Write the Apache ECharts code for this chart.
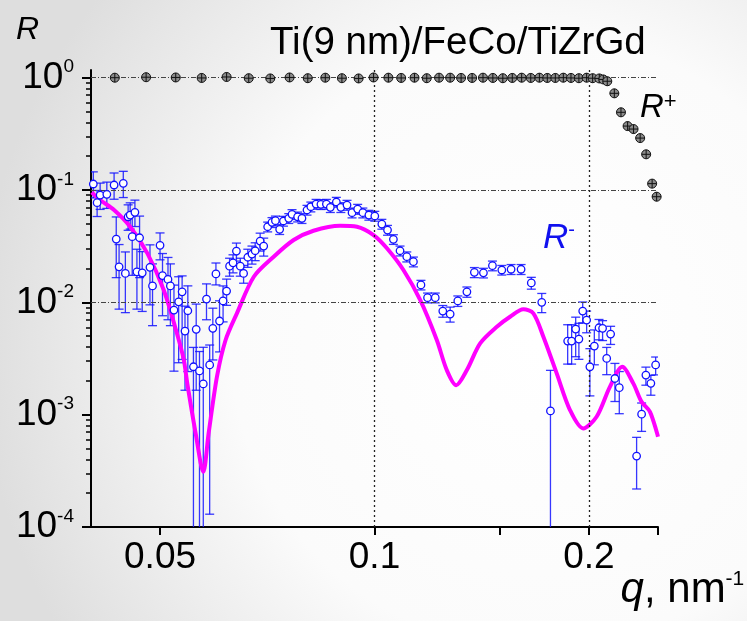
<!DOCTYPE html>
<html>
<head>
<meta charset="utf-8">
<script src="https://cdn.jsdelivr.net/npm/echarts@6/dist/echarts.min.js"></script>
<style>html,body{margin:0;padding:0;background:#fff}#c{width:747px;height:621px}</style>
</head>
<body>
<div id="c"></div>
<script>
// ---------------- data ----------------
const titleText = 'Ti(9 nm)/FeCo/TiZrGd';
const xLabelValues = [0.05, 0.1, 0.2];
const xLabelTexts = ['0.05', '0.1', '0.2'];
const xTickValues = [0.05, 0.1, 0.15, 0.2, 0.25];
const yTickValues = [1e-4, 1e-3, 1e-2, 1e-1, 1];
const yMinorTickValues = [2e-4, 3e-4, 4e-4, 5e-4, 6e-4, 7e-4, 8e-4, 9e-4,
  2e-3, 3e-3, 4e-3, 5e-3, 6e-3, 7e-3, 8e-3, 9e-3,
  0.02, 0.03, 0.04, 0.05, 0.06, 0.07, 0.08, 0.09,
  0.2, 0.3, 0.4, 0.5, 0.6, 0.7, 0.8, 0.9];
const xGridValues = [0.1, 0.2];
const yGridValues = [1, 0.1, 0.01, 0.001];

// R+ (spin-up reflectivity)
const qPlus = [0.0432, 0.0478, 0.0526, 0.0572, 0.0620, 0.0666, 0.0714, 0.0760, 0.0806, 0.0853, 0.0900, 0.0950, 0.0997,
  0.1046, 0.1090, 0.1138, 0.1184, 0.1232, 0.1277, 0.1323, 0.1371, 0.1420, 0.1466, 0.1514, 0.1561, 0.1609, 0.1657,
  0.1704, 0.1748, 0.1794, 0.1841, 0.1887, 0.1936, 0.1985, 0.2024, 0.2068, 0.2095, 0.2122,
  0.2171, 0.2218, 0.2266, 0.2310, 0.2360, 0.2406, 0.2453, 0.2489];
const rPlus = [1.0, 1.01, 1.005, 0.995, 1.015, 0.99, 0.985, 1.005, 0.99, 1.0, 0.99, 0.985, 1.005,
  1.0, 0.995, 1.0, 0.99, 1.0, 1.0, 0.995, 0.995, 1.0, 0.995, 0.99, 0.995, 1.0,
  0.995, 1.0, 0.995, 0.995, 1.0, 0.995, 0.99, 1.0, 0.99, 0.985, 0.965, 0.93,
  0.726, 0.492, 0.371, 0.349, 0.290, 0.208, 0.114, 0.0872];

// R- (spin-down reflectivity) with error bars
const qMinus = [0.0403, 0.0408, 0.0412, 0.0421, 0.0431, 0.0434, 0.0438, 0.0444, 0.0447, 0.0451, 0.0454, 0.0457, 0.0461,
  0.0464, 0.0468, 0.0472, 0.0484, 0.0488, 0.0500, 0.0504, 0.0513, 0.0517, 0.0523, 0.0531, 0.0537, 0.0542, 0.0547,
  0.0557, 0.0562, 0.0568, 0.0575, 0.0581, 0.0587, 0.0593, 0.0599, 0.0606, 0.0613, 0.0620, 0.0626, 0.0633, 0.0640,
  0.0648, 0.0655, 0.0664, 0.0673, 0.0680, 0.0691, 0.0699, 0.0708, 0.0718, 0.0726, 0.0736, 0.0745, 0.0758, 0.0766,
  0.0780, 0.0791, 0.0804, 0.0814, 0.0828, 0.0841, 0.0856, 0.0867, 0.0884, 0.0897, 0.0915, 0.0930, 0.0947, 0.0963,
  0.0982, 0.1001, 0.1024, 0.1043, 0.1063, 0.1086, 0.1110, 0.1134, 0.1162, 0.1187, 0.1217, 0.1247, 0.1277, 0.1309,
  0.1348, 0.1381, 0.1422, 0.1464, 0.1509, 0.1555, 0.1606, 0.1660, 0.1717, 0.1766, 0.1867, 0.1891, 0.1916, 0.1936,
  0.1960, 0.1985, 0.2006, 0.2035, 0.2066, 0.2090, 0.2118, 0.2145, 0.2175, 0.2206, 0.2333, 0.2371, 0.2404, 0.2443, 0.2481];
const rMinus = [0.1131, 0.0771, 0.0902, 0.0916, 0.1108, 0.0366, 0.0207, 0.1147, 0.0181, 0.0578, 0.0599, 0.0384, 0.0633,
  0.0187, 0.0376, 0.0183, 0.0205, 0.0140, 0.0322, 0.0173, 0.0160, 0.0140, 0.00854, 0.0101, 0.0124, 0.00555, 0.00842,
  0.00267, 0.00575, 0.00245, 0.00188, 0.0107, 0.00277, 0.00587, 0.0179, 0.00682, 0.0103, 0.0126, 0.0210, 0.0225, 0.0286,
  0.0210, 0.0181, 0.0252, 0.0269, 0.0288, 0.0351, 0.0317, 0.0471, 0.0516, 0.0533, 0.0447, 0.0530, 0.0560, 0.0608,
  0.0578, 0.0560, 0.0664, 0.0710, 0.0750, 0.0746, 0.0750, 0.0701, 0.0782, 0.0701, 0.0735, 0.0628, 0.0677, 0.0628,
  0.0599, 0.0587, 0.0498, 0.0440, 0.0364, 0.0288, 0.0255, 0.0230, 0.0143, 0.0110, 0.0110, 0.00837, 0.00787, 0.0103,
  0.0124, 0.0185, 0.0183, 0.0212, 0.0194, 0.0197, 0.0197, 0.0149, 0.0100, 0.00108, 0.00452, 0.00452, 0.00578, 0.00471,
  0.00837, 0.00696, 0.00267, 0.00408, 0.00594, 0.00587, 0.00317, 0.00522, 0.00210, 0.00174, 0.000428, 0.00101, 0.00225, 0.00190, 0.00277];
const rMinusErrUp = [0.032, 0.022, 0.025, 0.026, 0.031, 0.021, 0.012, 0.032, 0.010, 0.016, 0.017, 0.022, 0.018,
  0.011, 0.021, 0.010, 0.012, 0.0080, 0.0093, 0.0099, 0.0091, 0.0080, 0.0057, 0.0068, 0.0048, 0.0037, 0.0056,
  0.0013, 0.0039, 0.0012, 0.0021, 0.0039, 0.0014, 0.0030, 0.0045, 0.0035, 0.0037, 0.0035, 0.0037, 0.0040, 0.0051,
  0.0037, 0.0032, 0.0045, 0.0048, 0.0051, 0.0062, 0.0056, 0.0047, 0.0052, 0.0053, 0.0045, 0.0053, 0.0056, 0.0061,
  0.0058, 0.0056, 0.0066, 0.0071, 0.0075, 0.0075, 0.0075, 0.0070, 0.0078, 0.0070, 0.0074, 0.0063, 0.0068, 0.0063,
  0.0060, 0.0059, 0.0050, 0.0044, 0.0036, 0.0029, 0.0026, 0.0023, 0.0014, 0.0011, 0.0011, 0.0010, 0.0012, 0.0011,
  0.0013, 0.0019, 0.0018, 0.0021, 0.0019, 0.0020, 0.0020, 0.0018, 0.0020, 0.0014, 0.0018, 0.0018, 0.0016, 0.0018,
  0.0017, 0.0014, 0.0012, 0.0016, 0.0011, 0.0010, 0.0008, 0.0009, 0.00076, 0.00068, 0.00020, 0.00026, 0.00040, 0.00034, 0.00049];
const rMinusErrDown = [0.028, 0.019, 0.023, 0.023, 0.028, 0.020, 0.012, 0.029, 0.010, 0.014, 0.015, 0.021, 0.016,
  0.010, 0.021, 0.010, 0.011, 0.0078, 0.0083, 0.0097, 0.0090, 0.0078, 0.0061, 0.0072, 0.0093, 0.0039, 0.0060,
  0.00267, 0.0041, 0.00245, 0.00188, 0.0037, 0.00264, 0.0028, 0.0036, 0.0032, 0.0036, 0.0032, 0.0039, 0.0042, 0.0053,
  0.0039, 0.0033, 0.0047, 0.0050, 0.0053, 0.0065, 0.0059, 0.0047, 0.0052, 0.0053, 0.0045, 0.0053, 0.0056, 0.0061,
  0.0058, 0.0056, 0.0066, 0.0071, 0.0075, 0.0075, 0.0075, 0.0070, 0.0078, 0.0070, 0.0074, 0.0063, 0.0068, 0.0063,
  0.0060, 0.0059, 0.0050, 0.0044, 0.0036, 0.0029, 0.0026, 0.0023, 0.0014, 0.0011, 0.0011, 0.0010, 0.0012, 0.0011,
  0.0013, 0.0019, 0.0018, 0.0021, 0.0019, 0.0020, 0.0020, 0.0018, 0.0019, 0.00108, 0.0017, 0.0017, 0.0025, 0.0016,
  0.0018, 0.0016, 0.0012, 0.0013, 0.0013, 0.0013, 0.0009, 0.0010, 0.00079, 0.00072, 0.00021, 0.00030, 0.00042, 0.00041, 0.00051];

// model fit for R-
const qFit = [0.0401, 0.0412, 0.0431, 0.0454, 0.0480, 0.0506, 0.0528, 0.0540, 0.0546, 0.0561, 0.0575, 0.0585, 0.0601,
  0.0618, 0.0641, 0.0677, 0.0722, 0.0770, 0.0821, 0.0895, 0.0945, 0.0997, 0.1041, 0.1098, 0.1159, 0.1223, 0.1263,
  0.1302, 0.1348, 0.1407, 0.1485, 0.1550, 0.1618, 0.1671, 0.1726, 0.1802, 0.1881, 0.1963, 0.2050, 0.2140, 0.2227,
  0.2308, 0.2371, 0.2436, 0.2500];
const rFit = [0.0954, 0.0815, 0.0664, 0.0471, 0.0273, 0.01287, 0.00530, 0.00306, 0.00190, 0.000682, 0.000310, 0.000682, 0.00218,
  0.00462, 0.00798, 0.0169, 0.0255, 0.0359, 0.0434, 0.0481, 0.0471, 0.0397, 0.0303, 0.0194, 0.0105, 0.00462, 0.00250,
  0.00183, 0.00250, 0.00431, 0.00606, 0.00744, 0.00866, 0.00798, 0.00494, 0.00233, 0.00110, 0.000755, 0.000958, 0.00177, 0.00267,
  0.00190, 0.00130, 0.00106, 0.000636];

// ---------------- chart ----------------
const FONT = '"Liberation Sans", Arial, sans-serif';
const chart = echarts.init(document.getElementById('c'), null, {renderer: 'canvas'});

const plusData = qPlus.map((q, i) => [q, rPlus[i]]);
const minusData = qMinus.map((q, i) => [q, rMinus[i]]);
const errData = qMinus.map((q, i) => [q, Math.max(rMinus[i] - rMinusErrDown[i], 1e-7), rMinus[i] + rMinusErrUp[i]]);
const fitData = qFit.map((q, i) => [q, rFit[i]]);

const Y_MIN = 1e-4, Y_MAX = 1.171;

const option = {
  animation: false,
  backgroundColor: {
    type: 'radial', x: 0.72, y: 0.55, r: 0.9,
    colorStops: [{offset: 0, color: '#ffffff'}, {offset: 0.55, color: '#fbfbfb'}, {offset: 1, color: '#dedede'}]
  },
  title: {
    text: titleText, left: 270, top: 24, padding: 0,
    textStyle: {fontFamily: FONT, fontSize: 38.5, fontWeight: 'normal', color: '#000', lineHeight: 38}
  },
  grid: {left: 91, top: 70, width: 567, height: 457, containLabel: false, outerBoundsMode: 'none'},
  xAxis: {
    type: 'log', logBase: 10, min: 0.04, max: 0.25,
    name: '{i|q}{n|, nm}{s|-1}', nameLocation: 'end', nameGap: -46,
    nameTextStyle: {
      verticalAlign: 'top', align: 'left', padding: [42, 0, 0, 0],
      rich: {
        i: {fontFamily: FONT, fontSize: 42, fontStyle: 'italic', color: '#000', lineHeight: 42},
        n: {fontFamily: FONT, fontSize: 42, color: '#000', lineHeight: 42},
        s: {fontFamily: FONT, fontSize: 21, color: '#000', lineHeight: 21, verticalAlign: 'top'}
      }
    },
    axisLine: {show: true, onZero: false, lineStyle: {color: '#000', width: 2}},
    axisTick: {show: true, length: 8, customValues: xTickValues, lineStyle: {color: '#000', width: 2}},
    axisLabel: {
      customValues: xLabelValues, margin: 12, color: '#000', fontFamily: FONT, fontSize: 37,
      formatter: function (v) {
        let best = 0;
        xLabelValues.forEach((x, i) => { if (Math.abs(x - v) < Math.abs(xLabelValues[best] - v)) best = i; });
        return xLabelTexts[best];
      }
    },
    splitLine: {show: false},
    minorTick: {show: false}
  },
  yAxis: [
    {
      type: 'log', logBase: 10, min: Y_MIN, max: Y_MAX,
      name: 'R', nameLocation: 'end', nameGap: 40,
      nameTextStyle: {fontFamily: FONT, fontSize: 32, fontStyle: 'italic', color: '#000', align: 'right', verticalAlign: 'middle', padding: [0, 52, 0, 0]},
      axisLine: {show: true, onZero: false, lineStyle: {color: '#000', width: 2}},
      axisTick: {show: true, length: 9, customValues: yTickValues, lineStyle: {color: '#000', width: 2}},
      minorTick: {show: false},
      axisLabel: {
        customValues: yTickValues, margin: 17,
        formatter: function (v) {
          const lg = Math.log10(v);
          const e = Math.round(lg);
          if (Math.abs(lg - e) > 1e-6) return '';
          return '{b|10}{s|' + e + '}';
        },
        rich: {
          b: {fontFamily: FONT, fontSize: 37, color: '#000', lineHeight: 40},
          s: {fontFamily: FONT, fontSize: 19, color: '#000', lineHeight: 19, verticalAlign: 'top'}
        }
      },
      splitLine: {show: false}
    },
    {
      type: 'log', logBase: 10, min: Y_MIN, max: Y_MAX, position: 'left', offset: 0,
      axisLine: {show: false},
      axisTick: {show: true, length: 5, customValues: yMinorTickValues, lineStyle: {color: '#000', width: 1.5}},
      axisLabel: {show: false},
      minorTick: {show: false},
      splitLine: {show: false}
    }
  ],
  graphic: [
    {
      type: 'text', x: 640, y: 108, z: 50,
      style: {
        text: '{r|R}{p|+}', align: 'left', verticalAlign: 'middle',
        rich: {
          r: {fontFamily: FONT, fontSize: 33, fontStyle: 'italic', fill: '#000', lineHeight: 34},
          p: {fontFamily: FONT, fontSize: 22, fill: '#000', lineHeight: 22, verticalAlign: 'top'}
        }
      }
    },
    {
      type: 'text', x: 543, y: 238, z: 50,
      style: {
        text: '{r|R}{p|-}', align: 'left', verticalAlign: 'middle',
        rich: {
          r: {fontFamily: FONT, fontSize: 35, fontStyle: 'italic', fill: '#1010ee', lineHeight: 36},
          p: {fontFamily: FONT, fontSize: 20, fill: '#1010ee', lineHeight: 20, verticalAlign: 'top'}
        }
      }
    }
  ],
  series: [
    {
      name: 'grid', type: 'line', data: [], silent: true, z: 1, yAxisIndex: 0,
      markLine: {
        silent: true, symbol: 'none', label: {show: false}, animation: false,
        data: xGridValues.map(v => ({xAxis: v, lineStyle: {color: '#222', width: 1.3, type: [2, 3]}}))
          .concat(yGridValues.map(v => ({yAxis: v, lineStyle: {color: '#444', width: 1, type: [5, 2, 1, 2]}})))
      }
    },
    {
      name: 'R- error', type: 'custom', z: 3, clip: true, silent: true, yAxisIndex: 0,
      data: errData,
      encode: {x: 0, y: [1, 2]},
      renderItem: function (params, api) {
        const x = api.value(0), lo = api.value(1), hi = api.value(2);
        const pHi = api.coord([x, hi]);
        const pLo = api.coord([x, lo]);
        const w = 4.5;
        const st = {stroke: 'rgba(20,20,255,0.85)', lineWidth: 1.3};
        return {
          type: 'group',
          children: [
            {type: 'line', shape: {x1: pHi[0], y1: pHi[1], x2: pLo[0], y2: pLo[1]}, style: st},
            {type: 'line', shape: {x1: pHi[0] - w, y1: pHi[1], x2: pHi[0] + w, y2: pHi[1]}, style: st},
            {type: 'line', shape: {x1: pLo[0] - w, y1: pLo[1], x2: pLo[0] + w, y2: pLo[1]}, style: st}
          ]
        };
      }
    },
    {
      name: 'fit', type: 'line', data: fitData, z: 4, smooth: 0.3, symbol: 'none', silent: true, yAxisIndex: 0,
      lineStyle: {color: '#ff00ff', width: 4}
    },
    {
      name: 'R-', type: 'scatter', data: minusData, z: 5, symbol: 'circle', symbolSize: 7.5, silent: true, yAxisIndex: 0,
      itemStyle: {color: '#ffffff', borderColor: '#1010ff', borderWidth: 1.3, opacity: 1}
    },
    {
      name: 'R+', type: 'scatter', data: plusData, z: 6, silent: true, clip: false, yAxisIndex: 0,
      symbol: 'path://M0,5A5,5,0,1,1,10,5A5,5,0,1,1,0,5ZM5,0L5,10M0,5L10,5', symbolSize: 9,
      itemStyle: {color: '#8a8a8a', borderColor: '#111', borderWidth: 1, opacity: 1}
    }
  ]
};
chart.setOption(option);
</script>
</body>
</html>
